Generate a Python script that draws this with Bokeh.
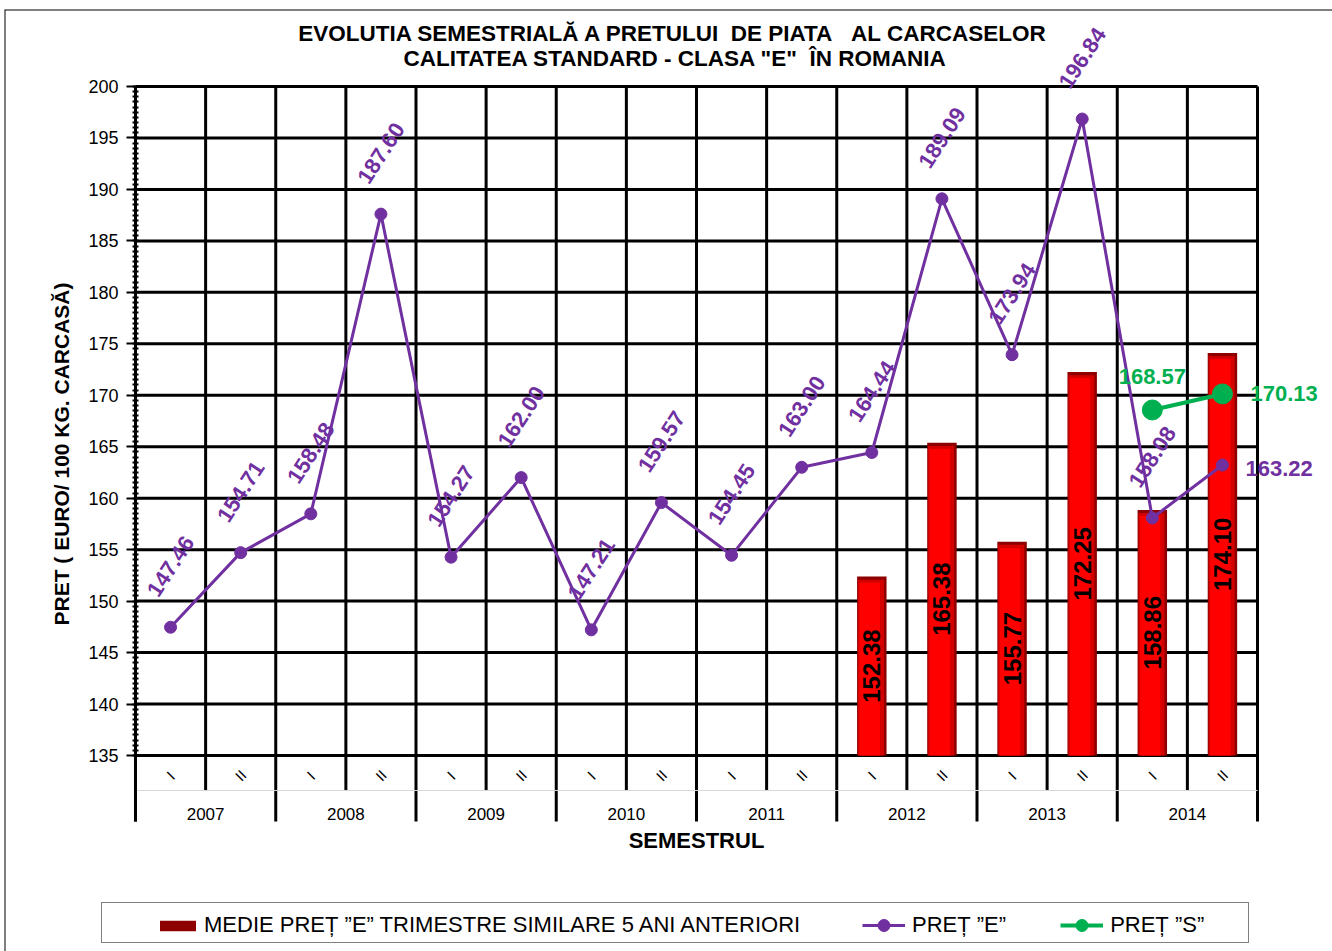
import numpy as np
from bokeh.plotting import figure
from bokeh.models import ColumnDataSource, FixedTicker, Label, Legend, LegendItem, Range1d, Span
from bokeh.core.properties import value
from bokeh.transform import dodge
from bokeh.embed import file_html
from bokeh.resources import INLINE

# ---------------- data ----------------
years = ["2007", "2008", "2009", "2010", "2011", "2012", "2013", "2014"]
semesters = ["I", "II"]
pret_e = [147.46, 154.71, 158.48, 187.60, 154.27, 162.00, 147.21, 159.57,
          154.45, 163.00, 164.44, 189.09, 173.94, 196.84, 158.08, 163.22]
medie_periods = [("2012", "I"), ("2012", "II"), ("2013", "I"), ("2013", "II"),
                 ("2014", "I"), ("2014", "II")]
medie = [152.38, 165.38, 155.77, 172.25, 158.86, 174.10]
pret_s_periods = [("2014", "I"), ("2014", "II")]
pret_s = [168.57, 170.13]
y_ticks = list(range(135, 201, 5))

title1 = "EVOLUTIA SEMESTRIALĂ A PRETULUI\u00a0\u00a0DE PIATA\u00a0\u00a0\u00a0AL CARCASELOR"
title2 = "CALITATEA STANDARD - CLASA \"E\"\u00a0\u00a0ÎN ROMANIA"
y_label = "PRET ( EURO/ 100 KG. CARCASĂ)"
x_label = "SEMESTRUL"
leg_medie = "MEDIE PREȚ ”E” TRIMESTRE SIMILARE 5 ANI ANTERIORI"
leg_e = "PREȚ ”E”"
leg_s = "PREȚ ”S”"

# ---------------- styles ----------------
FONT = "Liberation Sans"
PURPLE = "#7030A0"
GREEN = "#00B050"
X0, X1 = -1.868, 17.0695
Y0, Y1 = 115.957, 207.481
Y_AX0, Y_TOP = 128.59, 200
Y_BASE = 135
Y_SEMROW = 131.6

periods = [(y, s) for y in years for s in semesters]
n = len(periods)
pos = {p: i + 0.5 for i, p in enumerate(periods)}

p = figure(width=1332, height=951, output_backend="svg", toolbar_location=None,
           x_range=Range1d(X0, X1), y_range=Range1d(Y0, Y1),
           x_axis_location=None, title=None,
           min_border_left=4, min_border_right=0, min_border_top=9,
           min_border_bottom=0)
p.outline_line_color = None
p.xgrid.visible = False
p.ygrid.visible = False

# chart border (top and left edges visible)
p.add_layout(Span(location=X0, dimension="height", line_color="black", line_width=2))
p.add_layout(Span(location=Y1, dimension="width", line_color="black", line_width=2))

# y axis drawn at x = 0 inside the canvas
ax = p.yaxis[0]
ax.fixed_location = 0
ax.ticker = FixedTicker(ticks=y_ticks, minor_ticks=list(np.arange(135, 200.01, 0.5)))
ax.bounds = (Y_AX0, Y_TOP)
ax.axis_line_width = 3
ax.axis_line_color = "black"
ax.major_tick_line_width = 2
ax.major_tick_out = 9
ax.major_tick_in = 0
ax.minor_tick_line_width = 2
ax.minor_tick_in = 3
ax.minor_tick_out = 3
ax.major_label_standoff = 8
ax.major_label_text_font = FONT
ax.major_label_text_font_size = "18px"
ax.major_label_text_color = "black"
ax.axis_label = y_label
ax.axis_label_text_font = FONT
ax.axis_label_text_font_size = "21px"
ax.axis_label_text_font_style = "bold"
ax.axis_label_text_color = "black"
ax.axis_label_standoff = 12

# horizontal grid lines
p.segment(x0=[0] * len(y_ticks), y0=y_ticks, x1=[n] * len(y_ticks), y1=y_ticks,
          line_color="black", line_width=3)

# vertical separators (category boundaries)
bx = list(range(n + 1))
by0 = [Y_AX0 if i % 2 == 0 else Y_SEMROW for i in bx]
p.segment(x0=bx, y0=by0, x1=bx, y1=[Y_TOP] * len(bx), line_color="black", line_width=3)
p.segment(x0=[0], y0=[Y_SEMROW], x1=[n], y1=[Y_SEMROW], line_color="#d8d8d8", line_width=1)

# semester and year labels
p.text(x=[pos[q] for q in periods], y=[133.06] * n, text=[q[1] for q in periods],
       angle=np.pi / 4, text_align="center", text_baseline="middle",
       text_font=value(FONT), text_font_size="15px", text_color="black")
p.text(x=[2 * i + 1 for i in range(len(years))], y=[129.36] * len(years), text=years,
       text_align="center", text_baseline="middle",
       text_font=value(FONT), text_font_size="17px", text_color="black")

# bars
bsrc = ColumnDataSource(dict(x=[pos[q] for q in medie_periods], top=medie,
                             top_m=[v - 0.3 for v in medie], top_b=[v - 0.6 for v in medie],
                             mid=[(v + Y_BASE) / 2 for v in medie],
                             lab=[f"{v:.2f}" for v in medie]))
bar = p.vbar(x="x", width=0.42, bottom=Y_BASE, top="top", source=bsrc,
             fill_color="#8E0000", line_color=None)
p.vbar(x=dodge("x", -0.012), width=0.37, bottom=Y_BASE, top="top_m", source=bsrc,
       fill_color="#D40000", line_color=None)
p.vbar(x=dodge("x", -0.03), width=0.29, bottom=Y_BASE, top="top_b", source=bsrc,
       fill_color="#FF0000", line_color=None)
p.text(x="x", y="mid", text="lab", source=bsrc, angle=np.pi / 2,
       text_align="center", text_baseline="middle", text_font=value(FONT),
       text_font_size="24px", text_font_style="bold", text_color="black")

# PRET E
esrc = ColumnDataSource(dict(x=[pos[q] for q in periods], y=pret_e,
                             lab=[f"{v:.2f}" for v in pret_e]))
le = p.line("x", "y", source=esrc, line_color=PURPLE, line_width=3)
se = p.scatter("x", "y", source=esrc, size=12, fill_color=PURPLE, line_color=PURPLE)
p.text(x=esrc.data["x"][:-1], y=pret_e[:-1], text=esrc.data["lab"][:-1],
       angle=np.deg2rad(57), text_align="center", text_baseline="middle", y_offset=-61,
       text_font=value(FONT), text_font_size="22px", text_font_style="bold",
       text_color=PURPLE)
p.text(x=esrc.data["x"][-1:], y=pret_e[-1:], text=esrc.data["lab"][-1:],
       text_align="left", text_baseline="middle", x_offset=23, y_offset=3,
       text_font=value(FONT), text_font_size="22px", text_font_style="bold",
       text_color=PURPLE)

# PRET S
ssrc = ColumnDataSource(dict(x=[pos[q] for q in pret_s_periods], y=pret_s,
                             lab=[f"{v:.2f}" for v in pret_s]))
ls = p.line("x", "y", source=ssrc, line_color=GREEN, line_width=4)
ss = p.scatter("x", "y", source=ssrc, size=20, fill_color=GREEN, line_color=GREEN)
p.text(x=ssrc.data["x"][:1], y=pret_s[:1], text=ssrc.data["lab"][:1],
       text_align="center", text_baseline="middle", y_offset=-33,
       text_font=value(FONT), text_font_size="22px", text_font_style="bold",
       text_color=GREEN)
p.text(x=ssrc.data["x"][1:], y=pret_s[1:], text=ssrc.data["lab"][1:],
       text_align="left", text_baseline="middle", x_offset=28,
       text_font=value(FONT), text_font_size="22px", text_font_style="bold",
       text_color=GREEN)

# titles
for t, xx, yy in [(title1, 7.67, 205.15), (title2, 7.70, 202.72)]:
    p.add_layout(Label(x=xx, y=yy, text=t, text_align="center", text_baseline="middle",
                       text_font=FONT, text_font_size="22.5px", text_font_style="bold",
                       text_color="black"))
p.add_layout(Label(x=n / 2, y=126.74, text=x_label, text_align="center",
                   text_baseline="middle", text_font=FONT, text_font_size="22px",
                   text_font_style="bold", text_color="black"))

# legend frame (box only)
dummy = p.scatter([], [], alpha=0)
leg_box = Legend(items=[LegendItem(label=" ", renderers=[dummy])],
                 location=(97, 8), orientation="horizontal",
                 padding=10, margin=0, glyph_width=10, glyph_height=19, label_height=19,
                 label_width=1116, label_standoff=0,
                 border_line_color="black", border_line_width=1,
                 background_fill_color="white", background_fill_alpha=1)
p.add_layout(leg_box)

leg_bar = Legend(items=[LegendItem(label=leg_medie, renderers=[bar])],
                 location=(151, 13), orientation="horizontal",
                 padding=0, margin=0, glyph_width=45, glyph_height=13,
                 label_height=22, label_standoff=4,
                 label_text_font=FONT, label_text_font_size="22px", label_text_color="black",
                 border_line_color=None, background_fill_alpha=0)
p.add_layout(leg_bar)

leg_lines = Legend(items=[LegendItem(label=leg_e, renderers=[le, se]),
                          LegendItem(label=leg_s, renderers=[ls, ss])],
                   location=(858, 11), orientation="horizontal",
                   padding=0, margin=0, spacing=54, glyph_width=43, glyph_height=30,
                   label_height=22, label_standoff=7,
                   label_text_font=FONT, label_text_font_size="22px",
                   label_text_color="black",
                   border_line_color=None, background_fill_alpha=0)
p.add_layout(leg_lines)

open("out.html", "w").write(file_html(p, INLINE))
